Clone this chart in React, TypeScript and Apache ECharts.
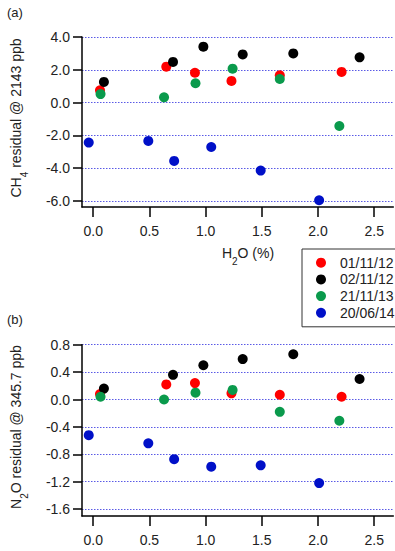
import React, { useEffect, useRef } from "react";
import * as echarts from "echarts";

const seriesNames = ["01/11/12", "02/11/12", "21/11/13", "20/06/14"];
const seriesColors = ["#ff0000", "#000000", "#0a9a4c", "#0010c8"];

const h2oRed = [0.06, 0.65, 0.905, 1.23, 1.66, 2.21];
const h2oBlack = [0.095, 0.71, 0.98, 1.33, 1.78, 2.37];
const h2oGreen = [0.065, 0.63, 0.91, 1.24, 1.66, 2.19];
const h2oBlue = [-0.04, 0.49, 0.72, 1.05, 1.49, 2.01];

const ch4Red = [0.75, 2.19, 1.82, 1.32, 1.66, 1.87];
const ch4Black = [1.26, 2.48, 3.41, 2.94, 3.0, 2.76];
const ch4Green = [0.52, 0.32, 1.18, 2.07, 1.44, -1.43];
const ch4Blue = [-2.44, -2.34, -3.56, -2.71, -4.15, -5.96];

const n2oRed = [0.08, 0.22, 0.24, 0.09, 0.07, 0.04];
const n2oBlack = [0.16, 0.36, 0.5, 0.59, 0.66, 0.3];
const n2oGreen = [0.04, 0.0, 0.1, 0.14, -0.18, -0.31];
const n2oBlue = [-0.52, -0.64, -0.87, -0.98, -0.96, -1.22];

const xTicks = [0, 0.5, 1, 1.5, 2, 2.5];
const ch4Ticks = [-6, -4, -2, 0, 2, 4];
const n2oTicks = [-1.6, -1.2, -0.8, -0.4, 0, 0.4, 0.8];

const FONT = "'Liberation Sans', Arial, sans-serif";

function pairs(xs: number[], ys: number[]) {
  return xs.map((x, i) => [x, ys[i]]);
}

export default function App() {
  const ref = useRef<HTMLDivElement>(null);
  useEffect(() => {
    document.body.style.margin = "0";
    const chart = echarts.init(ref.current!, undefined, { renderer: "svg" });
    const xs = [h2oRed, h2oBlack, h2oGreen, h2oBlue];
    const ch4 = [ch4Red, ch4Black, ch4Green, ch4Blue];
    const n2o = [n2oRed, n2oBlack, n2oGreen, n2oBlue];

    const axisLine = { show: true, onZero: false, lineStyle: { color: "#000", width: 1.5 } };
    const axisTick = (vals: number[], len: number) => ({
      show: true,
      inside: false,
      length: len,
      customValues: vals,
      lineStyle: { color: "#000", width: 1.5 },
    });
    const label = (vals: number[], margin: number) => ({
      customValues: vals,
      margin,
      fontSize: 14,
      fontFamily: FONT,
      color: "#222",
      formatter: (v: number) => Number(v).toFixed(1),
    });
    const xAxisCfg = (gi: number) => ({
      type: "value",
      gridIndex: gi,
      min: -0.1,
      max: 2.67,
      axisLine,
      axisTick: axisTick(xTicks, 10),
      axisLabel: label(xTicks, 17),
      splitLine: { show: false },
    });
    const yAxisCfg = (gi: number, min: number, max: number, ticks: number[]) => ({
      type: "value",
      gridIndex: gi,
      min,
      max,
      axisLine,
      axisTick: axisTick(ticks, 9),
      axisLabel: label(ticks, 12),
      splitLine: {
        show: true,
        lineStyle: { color: "#5a5ae6", width: 1, type: [1.5, 1.5] },
      },
    });

    const series: any[] = [];
    for (let g = 0; g < 2; g++) {
      for (let s = 0; s < 4; s++) {
        series.push({
          type: "scatter",
          name: seriesNames[s],
          xAxisIndex: g,
          yAxisIndex: g,
          symbol: "circle",
          symbolSize: 10,
          itemStyle: { color: seriesColors[s], opacity: 1 },
          data: pairs(xs[s], g === 0 ? ch4[s] : n2o[s]),
        });
      }
    }

    const rich = {
      n: { fontSize: 14, fontFamily: FONT, color: "#222", lineHeight: 18, verticalAlign: "middle" },
      s: { fontSize: 10, fontFamily: FONT, color: "#222", lineHeight: 18, verticalAlign: "bottom", padding: [0, 0, -4, 0] },
    };

    chart.setOption({
      animation: false,
      textStyle: { fontFamily: FONT },
      grid: [
        { left: 82, top: 37, width: 311.3, height: 170 },
        { left: 82, top: 344.7, width: 311.3, height: 171.3 },
      ],
      xAxis: [xAxisCfg(0), xAxisCfg(1)],
      yAxis: [yAxisCfg(0, -6.37, 4, ch4Ticks), yAxisCfg(1, -1.7, 0.8, n2oTicks)],
      legend: {
        data: seriesNames.map((n) => ({ name: n, icon: "circle" })),
        orient: "vertical",
        left: 302,
        top: 249,
        itemWidth: 10,
        itemHeight: 10,
        itemGap: 2.7,
        padding: [6.7, 8, 7, 14],
        borderColor: "#333",
        borderWidth: 1,
        backgroundColor: "#fff",
        textStyle: { fontSize: 14, fontFamily: FONT, color: "#222", lineHeight: 14, padding: [0, 0, 0, 9] },
        selectedMode: false,
      },
      graphic: [
        { type: "text", left: 7, top: 6, style: { text: "(a)", fontSize: 13, fontFamily: FONT, fill: "#222" } },
        { type: "text", left: 7, top: 313, style: { text: "(b)", fontSize: 13, fontFamily: FONT, fill: "#222" } },
        {
          type: "text",
          x: 248,
          y: 253,
          style: {
            text: "H{s|2}O (%)",
            rich,
            fontSize: 14,
            fontFamily: FONT,
            fill: "#222",
            align: "center",
            verticalAlign: "middle",
          },
        },
        {
          type: "text",
          x: 16,
          y: 118,
          rotation: Math.PI / 2,
          style: {
            text: "CH{s|4} residual @ 2143 ppb",
            rich,
            fontSize: 14,
            fontFamily: FONT,
            fill: "#222",
            align: "center",
            verticalAlign: "middle",
          },
        },
        {
          type: "text",
          x: 16,
          y: 427,
          rotation: Math.PI / 2,
          style: {
            text: "N{s|2}O residual @ 345.7 ppb",
            rich,
            fontSize: 14,
            fontFamily: FONT,
            fill: "#222",
            align: "center",
            verticalAlign: "middle",
          },
        },
      ],
      series,
    });
    return () => chart.dispose();
  }, []);
  return <div ref={ref} style={{ width: 395, height: 551 }} />;
}
